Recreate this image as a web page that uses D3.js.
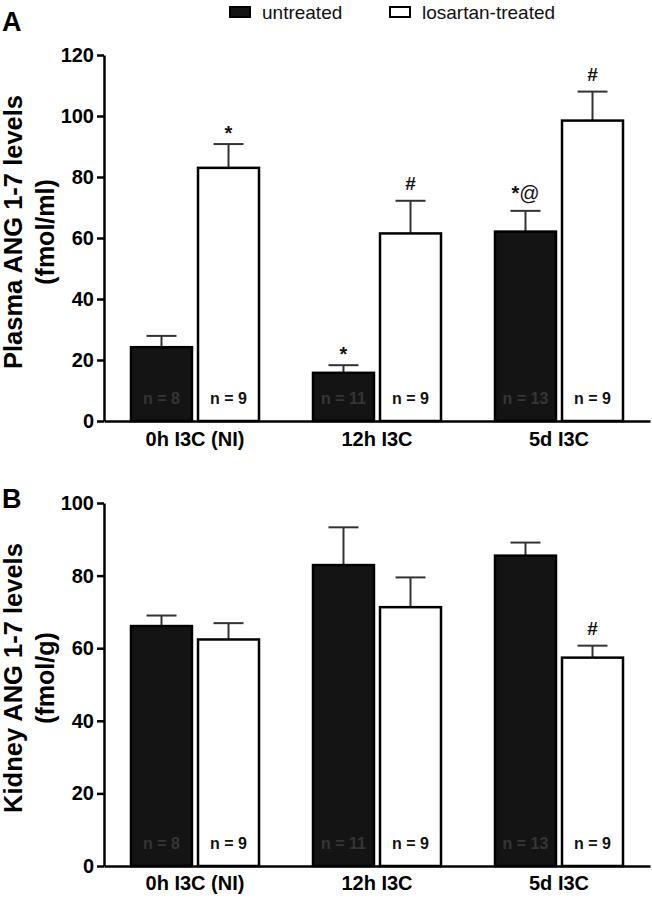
<!DOCTYPE html>
<html>
<head>
<meta charset="utf-8">
<script src="https://cdn.jsdelivr.net/npm/d3@7"></script>
<style>
  body { margin: 0; background: #fff; }
  svg text { font-family: "Liberation Sans", Arial, sans-serif; }
</style>
</head>
<body>
<svg id="chart" width="652" height="899"></svg>
<script>
// DATA
const categories = ["0h I3C (NI)", "12h I3C", "5d I3C"];
const series = ["untreated", "losartan-treated"];

const plasmaUntreated = [24.2, 15.8, 62.1];
const plasmaUntreatedSem = [3.7, 2.5, 6.8];
const plasmaLosartan = [83.0, 61.5, 98.5];
const plasmaLosartanSem = [7.8, 10.7, 9.5];
const plasmaUntreatedMarks = ["", "*", "*@"];
const plasmaLosartanMarks = ["*", "#", "#"];

const kidneyUntreated = [66.1, 82.9, 85.5];
const kidneyUntreatedSem = [2.9, 10.4, 3.6];
const kidneyLosartan = [62.4, 71.3, 57.4];
const kidneyLosartanSem = [4.5, 8.2, 3.3];
const kidneyUntreatedMarks = ["", "", ""];
const kidneyLosartanMarks = ["", "", "#"];

const nUntreated = [8, 11, 13];
const nLosartan = [9, 9, 9];

const plasmaTicks = [0, 20, 40, 60, 80, 100, 120];
const kidneyTicks = [0, 20, 40, 60, 80, 100];

const fillColor = { untreated: "#141414", "losartan-treated": "#ffffff" };

function buildRows(untreated, untreatedSem, untreatedMarks, losartan, losartanSem, losartanMarks) {
  const rows = [];
  categories.forEach((c, i) => {
    rows.push({ cat: c, series: "untreated", value: untreated[i], sem: untreatedSem[i], mark: untreatedMarks[i], n: nUntreated[i] });
    rows.push({ cat: c, series: "losartan-treated", value: losartan[i], sem: losartanSem[i], mark: losartanMarks[i], n: nLosartan[i] });
  });
  return rows;
}

const svg = d3.select("#chart");

// legend
const legend = svg.append("g").attr("class", "legend");
const legendX = d3.scaleOrdinal().domain(series).range([230, 390]);
series.forEach((s) => {
  legend.append("rect")
    .attr("x", legendX(s))
    .attr("y", 7)
    .attr("width", 20)
    .attr("height", 10)
    .attr("fill", fillColor[s])
    .attr("stroke", "#000")
    .attr("stroke-width", 2);
  legend.append("text")
    .attr("x", legendX(s) + 32)
    .attr("y", 19)
    .attr("font-size", 19)
    .attr("fill", "#111")
    .text(s);
});

function drawPanel(opts) {
  const g = svg.append("g");
  const x = d3.scaleBand().domain(categories).range([104, 650]).padding(0);
  const xi = d3.scaleBand().domain(series).range([-64, 64]).paddingInner(0.09);
  const y = d3.scaleLinear().domain([0, opts.max]).range([opts.bottom, opts.top]);

  // panel letter
  g.append("text")
    .attr("x", 2)
    .attr("y", opts.letterY)
    .attr("font-size", 27)
    .attr("font-weight", "bold")
    .text(opts.letter);

  // y title
  const cy = opts.titleCenter;
  g.append("text")
    .attr("transform", `translate(22,${cy}) rotate(-90)`)
    .attr("text-anchor", "middle")
    .attr("font-size", 25.5)
    .attr("font-weight", "bold")
    .text(opts.title1);
  g.append("text")
    .attr("transform", `translate(54,${cy}) rotate(-90)`)
    .attr("text-anchor", "middle")
    .attr("font-size", 25)
    .attr("font-weight", "bold")
    .text(opts.title2);

  const rows = opts.rows;
  const bx = (d) => x(d.cat) + x.bandwidth() / 2 + xi(d.series);
  const cxOf = (d) => bx(d) + xi.bandwidth() / 2;

  // error bars (upper only)
  const err = g.append("g").attr("stroke", "#333").attr("stroke-width", 2);
  err.selectAll("line.stem")
    .data(rows)
    .join("line")
    .attr("class", "stem")
    .attr("x1", cxOf).attr("x2", cxOf)
    .attr("y1", (d) => y(d.value))
    .attr("y2", (d) => y(d.value + d.sem));
  err.selectAll("line.cap")
    .data(rows)
    .join("line")
    .attr("class", "cap")
    .attr("x1", (d) => cxOf(d) - 15).attr("x2", (d) => cxOf(d) + 15)
    .attr("y1", (d) => y(d.value + d.sem))
    .attr("y2", (d) => y(d.value + d.sem));

  // bars
  g.selectAll("rect.bar")
    .data(rows)
    .join("rect")
    .attr("class", "bar")
    .attr("x", bx)
    .attr("width", xi.bandwidth())
    .attr("y", (d) => y(d.value))
    .attr("height", (d) => y(0) - y(d.value))
    .attr("fill", (d) => fillColor[d.series])
    .attr("stroke", "#000")
    .attr("stroke-width", 2.5);

  // n labels
  g.selectAll("text.n")
    .data(rows)
    .join("text")
    .attr("class", "n")
    .attr("x", cxOf)
    .attr("y", y(0) - 17)
    .attr("text-anchor", "middle")
    .attr("font-size", 16)
    .attr("font-weight", "bold")
    .attr("fill", (d) => (d.series === "untreated" ? "#363636" : "#111"))
    .text((d) => "n = " + d.n);

  // significance marks
  const marks = g.selectAll("text.mark")
    .data(rows.filter((d) => d.mark !== ""))
    .join("text")
    .attr("class", "mark")
    .attr("x", cxOf)
    .attr("y", (d) => y(d.value + d.sem) - (d.mark === "*" ? 4 : 11))
    .attr("text-anchor", "middle")
    .attr("font-size", 20)
    .attr("fill", "#111");
  marks.each(function (d) {
    const t = d3.select(this);
    d.mark.split("").forEach((ch) => {
      t.append("tspan")
        .attr("font-weight", ch === "@" ? "normal" : "bold")
        .attr("font-size", ch === "#" ? 19 : 20)
        .text(ch);
    });
  });

  // axes
  const yAxis = g.append("g")
    .attr("transform", "translate(104,0)")
    .call(d3.axisLeft(y).tickValues(opts.ticks).tickSize(7).tickSizeOuter(0).tickPadding(3));
  yAxis.selectAll("path, line").attr("stroke", "#000").attr("stroke-width", 2.5);
  yAxis.selectAll("text")
    .attr("font-size", 20)
    .attr("font-weight", "bold")
    .attr("fill", "#000")
    .attr("font-family", "'Liberation Sans', Arial, sans-serif");

  const xAxis = g.append("g")
    .attr("transform", `translate(0,${opts.bottom})`)
    .call(d3.axisBottom(x).tickSize(0).tickPadding(opts.labelPad));
  xAxis.select(".domain").attr("stroke", "#000").attr("stroke-width", 2.5);
  xAxis.selectAll("text")
    .attr("font-size", 20)
    .attr("font-weight", "bold")
    .attr("fill", "#000")
    .attr("font-family", "'Liberation Sans', Arial, sans-serif");
}

drawPanel({
  letter: "A", letterY: 31,
  top: 55, bottom: 421, max: 120, ticks: plasmaTicks,
  title1: "Plasma ANG 1-7 levels", title2: "(fmol/ml)", titleCenter: 232,
  labelPad: 11,
  rows: buildRows(plasmaUntreated, plasmaUntreatedSem, plasmaUntreatedMarks,
    plasmaLosartan, plasmaLosartanSem, plasmaLosartanMarks),
});

drawPanel({
  letter: "B", letterY: 508,
  top: 503, bottom: 866, max: 100, ticks: kidneyTicks,
  title1: "Kidney ANG 1-7 levels", title2: "(fmol/g)", titleCenter: 678,
  labelPad: 10,
  rows: buildRows(kidneyUntreated, kidneyUntreatedSem, kidneyUntreatedMarks,
    kidneyLosartan, kidneyLosartanSem, kidneyLosartanMarks),
});
</script>
</body>
</html>
